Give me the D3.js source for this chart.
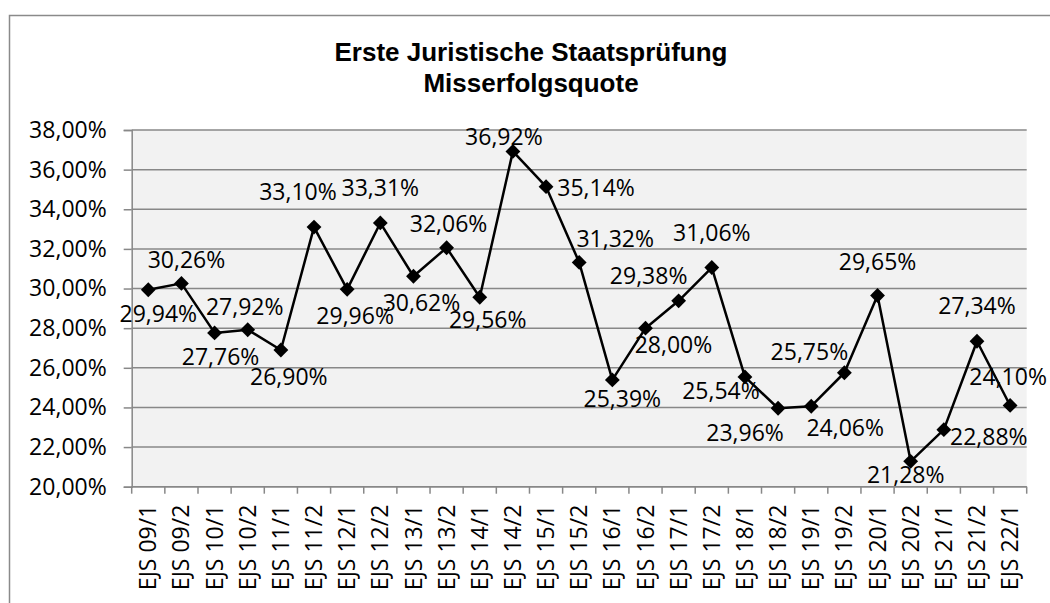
<!DOCTYPE html>
<html>
<head>
<meta charset="utf-8">
<script src="https://cdn.jsdelivr.net/npm/d3@7"></script>
<style>
  body { margin: 0; background: #fff; }
  text { font-family: "Open Sans", sans-serif; fill: #000; }
  .title { font-family: "Liberation Sans", Arial, sans-serif; font-weight: bold; font-size: 26px; }
</style>
</head>
<body>
<div id="chart"></div>
<script>
var categories = ["EJS 09/1", "EJS 09/2", "EJS 10/1", "EJS 10/2", "EJS 11/1", "EJS 11/2",
  "EJS 12/1", "EJS 12/2", "EJS 13/1", "EJS 13/2", "EJS 14/1", "EJS 14/2", "EJS 15/1",
  "EJS 15/2", "EJS 16/1", "EJS 16/2", "EJS 17/1", "EJS 17/2", "EJS 18/1", "EJS 18/2",
  "EJS 19/1", "EJS 19/2", "EJS 20/1", "EJS 20/2", "EJS 21/1", "EJS 21/2", "EJS 22/1"];
var quote = [29.94, 30.26, 27.76, 27.92, 26.90, 33.10, 29.96, 33.31, 30.62, 32.06, 29.56,
  36.92, 35.14, 31.32, 25.39, 28.00, 29.38, 31.06, 25.54, 23.96, 24.06, 25.75, 29.65,
  21.28, 22.88, 27.34, 24.10];
var yTicks = [20, 22, 24, 26, 28, 30, 32, 34, 36, 38];
var titleLines = ["Erste Juristische Staatsprüfung", "Misserfolgsquote"];

// where each data label sits relative to its point (label centre, px)
var labelShift = [[10, 24], [5, -23], [6, 24], [-3, -23], [8, 27], [-16, -35], [8, 27],
  [0, -35], [8, 27], [2, -24], [8, 23], [-9, -14], [50, 1], [36, -23], [10, 19],
  [28, 17], [-30, -25], [0, -35], [-24, 14], [-33, 25], [34, 22], [-35, -21], [0, -34],
  [-5, 14], [45, 7], [0, -35], [-2, -29]];

var svgWidth = 1050;
var svgHeight = 603;
var plot = { left: 131.7, right: 1026.7, top: 130, bottom: 486.7 };
var fmt = function(v) { return v.toFixed(2).replace(".", ",") + "%"; };

var svg = d3.select("#chart").append("svg")
  .attr("width", svgWidth)
  .attr("height", svgHeight);

// chart border
svg.append("rect")
  .attr("x", 9.5).attr("y", 15.5)
  .attr("width", 1100).attr("height", 700)
  .attr("fill", "none")
  .attr("stroke", "#8a8a8a")
  .attr("stroke-width", 1.5);

svg.append("text")
  .attr("class", "title")
  .attr("text-anchor", "middle")
  .selectAll("tspan")
  .data(titleLines)
  .enter()
  .append("tspan")
  .attr("x", 531)
  .attr("y", (d, i) => 61 + i * 31)
  .text(d => d);

var x = d3.scaleBand().domain(categories).range([plot.left, plot.right]);
var y = d3.scaleLinear().domain([20, 38]).range([plot.bottom, plot.top]);

svg.append("rect")
  .attr("x", plot.left).attr("y", plot.top)
  .attr("width", plot.right - plot.left).attr("height", plot.bottom - plot.top)
  .attr("fill", "#f2f2f2");

// gridlines
svg.append("g")
  .selectAll("line")
  .data(yTicks)
  .enter()
  .append("line")
  .attr("x1", plot.left).attr("x2", plot.right)
  .attr("y1", d => y(d)).attr("y2", d => y(d))
  .attr("stroke", "#888")
  .attr("stroke-width", 1.5);

var yAxis = svg.append("g")
  .attr("transform", `translate(${plot.left}, 0)`)
  .call(d3.axisLeft(y).tickValues(yTicks).tickFormat(fmt).tickSize(8).tickPadding(17));
yAxis.selectAll("line").attr("stroke", "#888").attr("stroke-width", 1.5);
yAxis.select(".domain").attr("stroke", "#888").attr("stroke-width", 1.5);
yAxis.selectAll("text").attr("font-size", 23).attr("font-family", "Open Sans");

// x axis: ticks between categories, labels centred
var bounds = categories.map(c => x(c)).concat([plot.right]);
var xAxis = svg.append("g");
xAxis.append("line")
  .attr("x1", plot.left).attr("x2", plot.right)
  .attr("y1", plot.bottom).attr("y2", plot.bottom)
  .attr("stroke", "#888").attr("stroke-width", 1.5);
xAxis.selectAll(".tk")
  .data(bounds)
  .enter()
  .append("line")
  .attr("class", "tk")
  .attr("x1", d => d).attr("x2", d => d)
  .attr("y1", plot.bottom).attr("y2", plot.bottom + 7)
  .attr("stroke", "#888").attr("stroke-width", 1.5);
xAxis.selectAll("text")
  .data(categories)
  .enter()
  .append("text")
  .attr("transform", d => `translate(${x(d) + x.bandwidth() / 2}, ${plot.bottom + 18}) rotate(-90)`)
  .attr("text-anchor", "end")
  .attr("dy", "0.35em")
  .attr("font-size", 23)
  .text(d => d);

var line = d3.line()
  .x((d, i) => x(categories[i]) + x.bandwidth() / 2)
  .y(d => y(d));

svg.append("path")
  .datum(quote)
  .attr("d", line)
  .attr("fill", "none")
  .attr("stroke", "#000")
  .attr("stroke-width", 2.5)
  .attr("stroke-linejoin", "round");

svg.append("g")
  .selectAll("path")
  .data(quote)
  .enter()
  .append("path")
  .attr("d", d3.symbol().type(d3.symbolSquare).size(110))
  .attr("transform", (d, i) => `translate(${x(categories[i]) + x.bandwidth() / 2}, ${y(d)}) rotate(45)`)
  .attr("fill", "#000");

svg.append("g")
  .selectAll("text")
  .data(quote)
  .enter()
  .append("text")
  .attr("x", (d, i) => x(categories[i]) + x.bandwidth() / 2 + labelShift[i][0])
  .attr("y", (d, i) => y(d) + labelShift[i][1])
  .attr("dy", "0.35em")
  .attr("text-anchor", "middle")
  .attr("font-size", 23)
  .text(fmt);
</script>
</body>
</html>
